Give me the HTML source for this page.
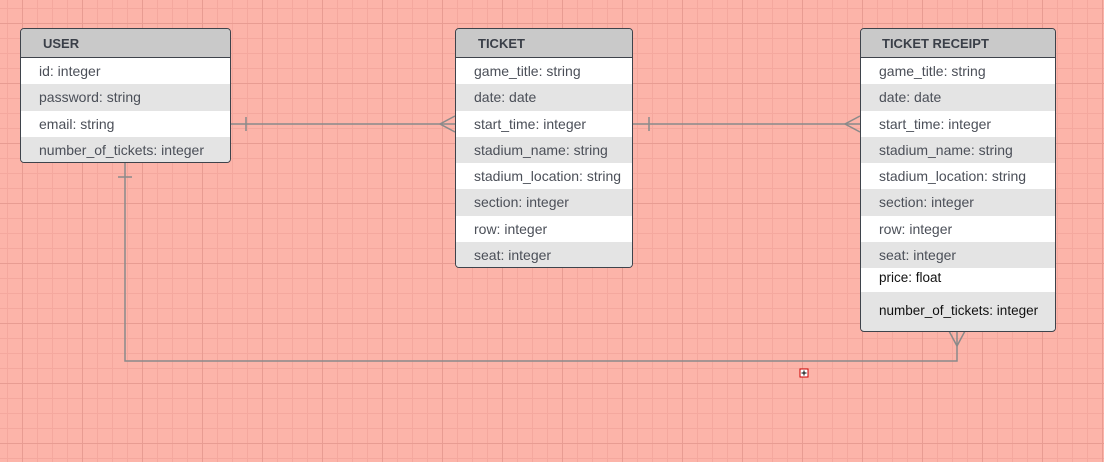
<!DOCTYPE html>
<html><head><meta charset="utf-8"><style>
body{margin:0;width:1104px;height:462px;overflow:hidden;font-family:"Liberation Sans",sans-serif;
background-color:#fcb4a9;
background-image:linear-gradient(#e89c92 1px,transparent 1px),linear-gradient(90deg,#e89c92 1px,transparent 1px),linear-gradient(#f4a89e 1px,transparent 1px),linear-gradient(90deg,#f4a89e 1px,transparent 1px);
background-size:60px 60px,60px 60px,15px 15px,15px 15px;background-position:22px 23px,22px 23px,7px 8px,7px 8px;}
.t{position:absolute;border:1.5px solid #3e434b;border-radius:4px;overflow:hidden;background:#e4e4e4;box-sizing:border-box}
.h{height:29px;background:#c9c9c9;border-bottom:1.5px solid #3e434b;font-weight:bold;font-size:13px;color:#3a3f48;line-height:30px;padding-left:22px;box-sizing:border-box}
.r{height:26.3px;line-height:27px;font-size:14px;color:#4b4f58;padding-left:18px;white-space:nowrap}
.w{background:#fff}.g{background:#e4e4e4}
.k{color:#111;font-size:13.5px}
svg{position:absolute;left:0;top:0}
</style></head><body>
<svg width="1104" height="462">
<g stroke="#8a8a8a" stroke-width="1.5" fill="none">
<line x1="231" y1="124" x2="455" y2="124"/><line x1="246" y1="117" x2="246" y2="131"/>
<polyline points="455,116 440,124 455,132"/>
<line x1="632" y1="124" x2="860" y2="124"/><line x1="649" y1="117" x2="649" y2="131"/>
<polyline points="860,116 845,124 860,132"/>
<polyline points="125,162 125,361 957,361 957,331"/><line x1="118" y1="177" x2="132" y2="177"/>
<polyline points="949,331 957,346 965,331"/>
</g>
<rect x="800" y="369" width="8" height="8" fill="#fff" stroke="#c00" stroke-width="1"/>
<path d="M801.5 373h5M804 370.5v5" stroke="#000" stroke-width="1"/>
</svg>
<div class="t" style="left:20px;top:28px;width:211px;height:135px">
<div class="h">USER</div>
<div class="r w">id: integer</div><div class="r g">password: string</div><div class="r w">email: string</div><div class="r g">number_of_tickets: integer</div></div>
<div class="t" style="left:455px;top:28px;width:178px;height:240px">
<div class="h">TICKET</div>
<div class="r w">game_title: string</div><div class="r g">date: date</div><div class="r w">start_time: integer</div><div class="r g">stadium_name: string</div><div class="r w">stadium_location: string</div><div class="r g">section: integer</div><div class="r w">row: integer</div><div class="r g">seat: integer</div></div>
<div class="t" style="left:860px;top:28px;width:196px;height:304px">
<div class="h" style="padding-left:21px">TICKET RECEIPT</div>
<div class="r w">game_title: string</div><div class="r g">date: date</div><div class="r w">start_time: integer</div><div class="r g">stadium_name: string</div><div class="r w">stadium_location: string</div><div class="r g">section: integer</div><div class="r w">row: integer</div><div class="r g">seat: integer</div>
<div class="r w k" style="height:24px;line-height:20px">price: float</div>
<div class="r g k" style="height:38px;line-height:38px">number_of_tickets: integer</div></div>
</body></html>
